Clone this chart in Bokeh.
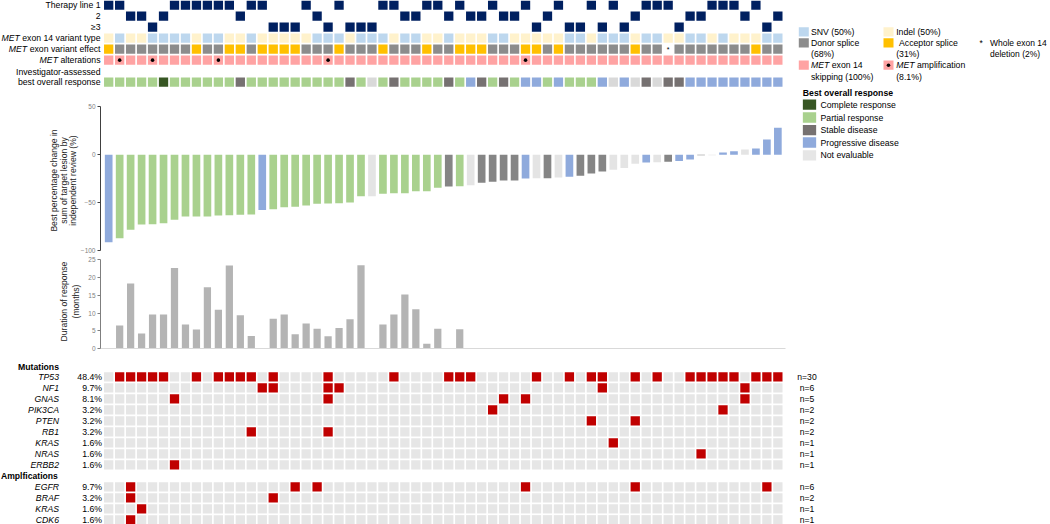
import math
from bokeh.plotting import figure
from bokeh.models import Range1d, ColumnDataSource, FixedTicker, LinearAxis
from bokeh.layouts import column
from bokeh.embed import file_html
from bokeh.resources import INLINE
from bokeh.core.properties import value

# ---------------- data (one entry per patient, ordered as in the waterfall) ----------------
therapy_line = [1, 1, 2, 2, 3, 2, 1, 1, 1, 1,
                1, 1, 2, 1, 1, 3, 3, 3, 1, 2,
                3, 1, 3, 3, 3, 1, 1, 2, 2, 1,
                1, 2, 1, 2, 2, 1, 2, 2, 1, 3,
                2, 1, 3, 3, 1, 3, 1, 3, 2, 1,
                1, 1, 3, 2, 2, 1, 1, 1, 2, 1,
                3, 2]
therapy_labels = ["Therapy line 1", "2", "\u22653"]

variant_type = ["Indel", "SNV", "Indel", "Indel", "SNV", "SNV", "SNV", "SNV", "Indel", "SNV",
                "SNV", "Indel", "Indel", "SNV", "Indel", "Indel", "Indel", "Indel", "Indel", "SNV",
                "SNV", "SNV", "Indel", "SNV", "SNV", "SNV", "Indel", "SNV", "SNV", "Indel",
                "Indel", "SNV", "Indel", "Indel", "Indel", "SNV", "SNV", "Indel", "Indel", "Indel",
                "Indel", "Indel", "SNV", "SNV", "Indel", "SNV", "SNV", "SNV", "Indel", "SNV",
                "SNV", "Indel", "Indel", "SNV", "SNV", "Indel", "SNV", "Indel", "Indel", "Indel",
                "SNV", "SNV"]

variant_effect = ["Acceptor", "Donor", "Donor", "Donor", "Donor", "Donor", "Donor", "Donor", "Acceptor", "Donor",
                  "Donor", "Acceptor", "Acceptor", "Donor", "Acceptor", "Acceptor", "Acceptor", "Acceptor", "Donor", "Donor",
                  "Donor", "Acceptor", "Donor", "Donor", "Donor", "Acceptor", "Donor", "Donor", "Donor", "Acceptor",
                  "Donor", "Donor", "Acceptor", "Acceptor", "Acceptor", "Donor", "Donor", "Donor", "Acceptor", "Acceptor",
                  "Donor", "Acceptor", "Donor", "Donor", "Donor", "Donor", "Donor", "Donor", "Acceptor", "Donor",
                  "Donor", "Whole", "Donor", "Donor", "Donor", "Donor", "Donor", "Donor", "Donor", "Acceptor",
                  "Donor", "Donor"]

met_amp_patients = [1, 4, 10, 20, 38]

investigator_bor = ["PR", "PR", "PR", "PR", "PR", "CR", "PR", "PR", "PR", "PR",
                    "PR", "PR", "SD", "PR", "PR", "PR", "PR", "PR", "PR", "PR",
                    "PR", "PR", "SD", "PR", "NE", "PR", "SD", "PR", "PR", "PR",
                    "PR", "SD", "PR", "PD", "SD", "PR", "SD", "PR", "PD", "PD",
                    "PR", "PD", "PR", "PR", "PR", "PD", "NE", "PD", "NE", "SD",
                    "NE", "SD", "SD", "PD", "PD", "PD", "PD", "PD", "PD", "PD",
                    "PD", "PD"]

irc_bor = ["PD", "PR", "PR", "PR", "PR", "PR", "PR", "PR", "PR", "PR",
           "PR", "PR", "PR", "PR", "PD", "PR", "PR", "PR", "PR", "PR",
           "PR", "PR", "PR", "PR", "NE", "PR", "PR", "PR", "PR", "PR",
           "PR", "SD", "PR", "NE", "SD", "SD", "SD", "SD", "PD", "NE",
           "SD", "NE", "PD", "SD", "SD", "SD", "NE", "NE", "NE", "PD",
           "NE", "SD", "PD", "PD", "SD", "NE", "PD", "PD", "NE", "PD",
           "PD", "PD"]

best_pct_change = [-91.3, -87.1, -78.4, -72.8, -72.5, -71.4, -67.9, -64.5, -64.5, -64.5,
                   -63.4, -63.1, -62.7, -62.4, -57.8, -56.8, -54.7, -54.3, -53.0, -51.2,
                   -51.0, -50.5, -49.8, -43.2, -43.2, -40.8, -40.1, -40.1, -38.0, -38.0,
                   -34.5, -33.1, -32.8, -31.7, -29.3, -28.2, -26.8, -26.8, -24.7, -24.4,
                   -24.4, -23.7, -23.0, -22.0, -19.5, -17.4, -15.7, -13.9, -9.4, -8.0,
                   -7.7, -7.3, -6.6, -4.9, -0.6, -0.4, 2.4, 3.8, 5.6, 6.6,
                   16.0, 28.2]

dor_months = [None, 6.5, 18.3, 4.3, 9.6, 9.6, 22.6, 6.8, 5.4, 17.2,
              10.9, 23.3, 9.4, 3.6, None, 8.4, 9.6, 4.1, 7.1, 5.6,
              3.5, 5.8, 8.3, 23.4, None, 6.8, 9.6, 15.2, 11.1, 1.4,
              5.6, None, 5.5] + [None] * 29

mutation_genes = ["TP53", "NF1", "GNAS", "PIK3CA", "PTEN", "RB1", "KRAS", "NRAS", "ERBB2"]
mutation_patients = [
    [1, 2, 3, 4, 5, 8, 10, 11, 12, 13, 15, 20, 26, 31, 32, 33, 39, 42, 44, 45,
     48, 50, 53, 54, 55, 56, 57, 59, 60, 61],
    [14, 15, 20, 21, 45, 58],
    [6, 20, 36, 38, 58],
    [35, 56],
    [44, 48],
    [13, 20],
    [46],
    [54],
    [6],
]
amp_genes = ["EGFR", "BRAF", "KRAS", "CDK6"]
amp_patients = [[2, 17, 19, 38, 48, 60], [2, 15], [3], [2]]

wf_ticks = [-100, -50, 0, 50]
wf_title = ["Best percentage change in", "sum of target lesion by", "independent review (%)"]
dor_ticks = [0, 5, 10, 15, 20, 25]
dor_title = ["Duration of response", "(months)"]
bor_codes = ["CR", "PR", "SD", "PD", "NE"]
bor_names = ["Complete response", "Partial response", "Stable disease",
             "Progressive disease", "Not evaluable"]

N = len(therapy_line)

# ---------------- styles ----------------
FONT = "Liberation Sans"
FS = 8.7
NAVY = "#002060"
TYPE_C = {"SNV": "#BDD7EE", "Indel": "#FFF2CC"}
EFF_C = {"Donor": "#8C8C8C", "Acceptor": "#FFC000"}
SKIP_C = "#FFA3A3"
BOR_C = {"CR": "#375623", "PR": "#A9D18E", "SD": "#767171", "PD": "#8FAADC", "NE": "#D9D9D9"}
LEG_C = {"CR": "#375623", "PR": "#A9D18E", "SD": "#767171", "PD": "#8FAADC", "NE": "#E6E6E6"}
WF_C = {"PR": "#A9D18E", "SD": "#858585", "PD": "#8FAADC", "NE": "#E4E4E4"}
DOR_C = "#B4B4B4"
MUT_BG = "#E6E6E6"
MUT_C = "#C00000"

ARIAL = {" ": 278, "%": 889, "(": 333, ")": 333, ".": 278, "-": 333, "=": 584,
         "A": 667, "B": 667, "C": 722, "D": 722, "E": 667, "M": 833, "T": 611, "W": 944,
         "a": 556, "b": 556, "c": 500, "d": 556, "e": 556, "f": 278, "g": 556, "h": 556,
         "i": 222, "j": 222, "k": 500, "l": 222, "m": 833, "n": 556, "o": 556, "p": 556,
         "q": 556, "r": 333, "s": 500, "t": 278, "u": 556, "v": 500, "w": 722, "x": 500,
         "y": 500, "z": 500}


def tw(s, fs=FS):
    return sum(ARIAL.get(c, 556) for c in s) / 1000.0 * fs


# ---------------- geometry (page pixels -> data units) ----------------
W = 1050
X0, PITCH = 102.7, 10.97
bounds = [0, 97, 254, 356, 524]
HA, HB, HC, HD = [bounds[i + 1] - bounds[i] for i in range(4)]
CW = 9.3 / PITCH
CH = 9.3 / 11.0


def xd(px):
    return (px - X0) / PITCH - 0.5


def ya(py):
    return (py - 4.65) / 11.0


def yd(py):
    return (py - 376.3) / 11.0


WF_ZERO, WF_SCALE = 154.3, 0.957


def yb(py):
    return (WF_ZERO - py) / WF_SCALE


DOR_ZERO, DOR_SCALE = 348.3, 3.573


def yc(py):
    return (DOR_ZERO - py) / DOR_SCALE


XR = (xd(0), xd(W))


def make_fig(h, yr):
    p = figure(width=W, height=h, x_range=Range1d(*XR), y_range=yr, output_backend="svg",
               toolbar_location=None, tools="", title=None,
               x_axis_location=None, y_axis_location=None, min_border=0)
    p.outline_line_color = None
    p.background_fill_color = "white"
    p.border_fill_color = "white"
    p.xgrid.visible = False
    p.ygrid.visible = False
    p.xgrid.grid_line_color = None
    p.ygrid.grid_line_color = None
    return p


def add_text(p, xs, ys, texts, align="left", style="normal", size=FS, color="#000000", angle=0.0):
    src = ColumnDataSource(dict(x=list(xs), y=list(ys), text=list(texts)))
    p.text(x="x", y="y", text="text", source=src, text_align=align, text_baseline="middle",
           text_font=value(FONT), text_font_size=value("%.1fpx" % size), angle=angle,
           text_font_style=style, text_color=color)


def mixed_right(p, x_px, y, italic, rest, size=FS):
    add_text(p, [xd(x_px)], [y], [rest], align="right", size=size)
    add_text(p, [xd(x_px - tw(rest + " ", size))], [y], [italic], align="right", style="italic", size=size)


def mixed_left(p, x_px, y, italic, rest, size=FS):
    add_text(p, [xd(x_px)], [y], [italic], style="italic", size=size)
    add_text(p, [xd(x_px + tw(italic + " ", size))], [y], [rest], size=size)


def value_axis(ticks, line_color):
    ax = LinearAxis(fixed_location=xd(100), ticker=FixedTicker(ticks=ticks),
                    bounds=(min(ticks), max(ticks)))
    ax.axis_line_color = line_color
    ax.major_tick_line_color = line_color
    ax.major_tick_out = 3
    ax.major_tick_in = 0
    ax.minor_tick_line_color = None
    ax.major_label_text_font = FONT
    ax.major_label_text_font_size = "6.5px"
    ax.major_label_text_color = "#7F7F7F"
    ax.major_label_standoff = 2
    return ax


# ---------------- A: clinical annotation rows ----------------
pA = make_fig(HA, Range1d(ya(bounds[1]), ya(bounds[0])))
idx = list(range(N))
pA.rect(x=idx, y=[t - 1 for t in therapy_line], width=CW, height=CH, fill_color=NAVY, line_color=None)
pA.rect(x=idx, y=[3] * N, width=CW, height=CH, fill_color=[TYPE_C[v] for v in variant_type], line_color=None)
eff_idx = [i for i in idx if variant_effect[i] in EFF_C]
pA.rect(x=eff_idx, y=[4] * len(eff_idx), width=CW, height=CH,
        fill_color=[EFF_C[variant_effect[i]] for i in eff_idx], line_color=None)
whole_idx = [i for i in idx if variant_effect[i] == "Whole"]
add_text(pA, whole_idx, [4.05] * len(whole_idx), ["*"] * len(whole_idx), align="center", size=7)
pA.rect(x=idx, y=[5] * N, width=CW, height=CH, fill_color=SKIP_C, line_color=None)
pA.scatter(x=met_amp_patients, y=[5] * len(met_amp_patients), size=3.6, marker="circle",
           fill_color="black", line_color=None)
pA.rect(x=idx, y=[7] * N, width=CW, height=CH, fill_color=[BOR_C[b] for b in investigator_bor], line_color=None)

# row labels
add_text(pA, [xd(100)] * 3, [0, 1, 2], therapy_labels, align="right")
mixed_right(pA, 100, 3, "MET", "exon 14 variant type")
mixed_right(pA, 100, 4, "MET", "exon variant effect")
mixed_right(pA, 100, 5, "MET", "alterations")
add_text(pA, [xd(100), xd(100)], [6.08, 7], ["Investigator-assessed", "best overall response"], align="right")

# legend for annotation rows
sw_w, sw_h = 10.0 / PITCH, 9.3 / 11.0
pA.rect(x=[xd(803.3), xd(888.0), xd(803.3), xd(888.0), xd(803.3), xd(888.0)],
        y=[ya(31.3), ya(31.3), ya(42.3), ya(42.3), ya(64.7), ya(64.7)],
        width=sw_w, height=sw_h,
        fill_color=[TYPE_C["SNV"], TYPE_C["Indel"], EFF_C["Donor"], EFF_C["Acceptor"], SKIP_C, SKIP_C],
        line_color=None)
pA.scatter(x=[xd(888.0)], y=[ya(64.7)], size=3.6, marker="circle", fill_color="black", line_color=None)
add_text(pA, [xd(810.5), xd(895.7), xd(810.5), xd(810.5), xd(898.5), xd(895.7), xd(810.5), xd(895.7)],
         [ya(31.3), ya(31.3), ya(42.3), ya(53.3), ya(42.3), ya(53.3), ya(76.0), ya(76.0)],
         ["SNV (50%)", "Indel (50%)", "Donor splice", "(68%)", "Acceptor splice", "(31%)",
          "skipping (100%)", "(8.1%)"])
mixed_left(pA, 810.5, ya(64.7), "MET", "exon 14")
mixed_left(pA, 895.7, ya(64.7), "MET", "amplification")
add_text(pA, [xd(979.0)], [ya(42.3)], ["*"], size=8.5)
add_text(pA, [xd(989.5), xd(989.5)], [ya(42.3), ya(53.3)], ["Whole exon 14", "deletion (2%)"], size=8.5)
add_text(pA, [xd(802.3)], [ya(92.0)], ["Best overall response"], style="bold")

# ---------------- B: waterfall ----------------
pB = make_fig(HB, Range1d(yb(bounds[2]), yb(bounds[1])))
wf_src = ColumnDataSource(dict(x=idx, top=best_pct_change, color=[WF_C[b] for b in irc_bor]))
pB.vbar(x="x", top="top", bottom=0, width=0.7, fill_color="color", line_color=None, source=wf_src)
pB.add_layout(value_axis(wf_ticks, "#404040"), "left")
add_text(pB, [xd(53.5), xd(63.2), xd(72.9)], [yb(180.0)] * 3, wf_title, align="center",
         size=8.6, color="#262626", angle=math.pi / 2)

leg_y = [104.2, 117.0, 129.7, 142.0, 154.8]
pB.rect(x=[xd(809.0)] * 5, y=[yb(v) for v in leg_y], width=13.3 / PITCH, height=10.3 / WF_SCALE,
        fill_color=[LEG_C[c] for c in bor_codes], line_color=None)
add_text(pB, [xd(820.0)] * 5, [yb(v) for v in leg_y], bor_names)

# ---------------- C: duration of response ----------------
pC = make_fig(HC, Range1d(yc(bounds[3]), yc(bounds[2])))
dor_x = [i for i in idx if dor_months[i] is not None]
pC.vbar(x=dor_x, top=[dor_months[i] for i in dor_x], bottom=0, width=0.66, fill_color=DOR_C, line_color=None)
pC.add_layout(value_axis(dor_ticks, "#7F7F7F"), "left")
base = LinearAxis(fixed_location=0, ticker=FixedTicker(ticks=[]), bounds=(xd(100), xd(785)),
                  axis_line_color="#D9D9D9", major_tick_out=0, major_tick_in=0,
                  minor_tick_out=0, minor_tick_in=0, major_label_standoff=0,
                  major_label_text_font_size="0px")
pC.add_layout(base, "below")
add_text(pC, [xd(63.5), xd(75.0)], [yc(301.0)] * 2, dor_title, align="center",
         size=8.6, color="#262626", angle=math.pi / 2)

# ---------------- D: genomic alterations ----------------
pD = make_fig(HD, Range1d(yd(bounds[4]), yd(bounds[3])))
rows_genes = mutation_genes + amp_genes
rows_hits = mutation_patients + amp_patients
row_pos = list(range(len(mutation_genes))) + [len(mutation_genes) + 1 + k for k in range(len(amp_genes))]
bg_x, bg_y, hit_x, hit_y = [], [], [], []
for r, hits in zip(row_pos, rows_hits):
    for i in idx:
        if i in hits:
            hit_x.append(i)
            hit_y.append(r)
        else:
            bg_x.append(i)
            bg_y.append(r)
pD.rect(x=bg_x, y=bg_y, width=CW, height=CH, fill_color=MUT_BG, line_color=None)
pD.rect(x=hit_x, y=hit_y, width=CW, height=CH, fill_color=MUT_C, line_color=None)
counts = [len(h) for h in rows_hits]
add_text(pD, [xd(58.5)] * len(rows_genes), row_pos, rows_genes, align="right", style="italic")
add_text(pD, [xd(101.5)] * len(rows_genes), row_pos, ["%.1f%%" % (100.0 * c / N) for c in counts], align="right")
add_text(pD, [xd(806.5)] * len(rows_genes), row_pos, ["n=%d" % c for c in counts], align="center", size=8.6)
add_text(pD, [xd(58.5)], [yd(366.5)], ["Mutations"], align="right", style="bold")
add_text(pD, [xd(0.5)], [len(mutation_genes)], ["Amplfications"], style="bold", size=8.6)

layout = column(pA, pB, pC, pD, spacing=0)
open("out.html", "w").write(file_html(layout, INLINE, title="MET exon 14 waterfall"))
